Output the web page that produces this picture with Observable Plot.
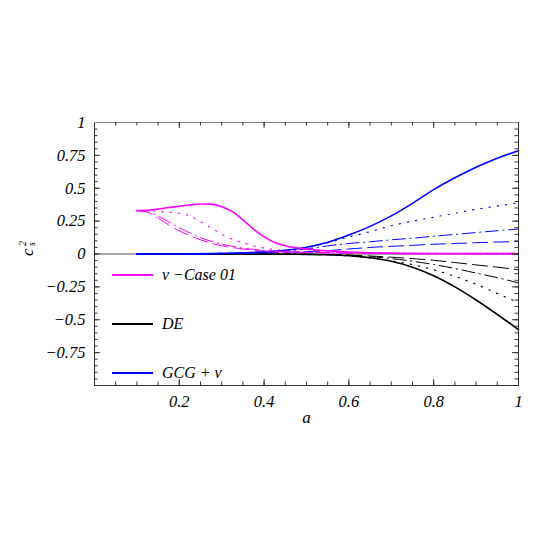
<!DOCTYPE html>
<html><head><meta charset="utf-8">
<script src="https://cdn.jsdelivr.net/npm/d3@7"></script>
<script src="https://cdn.jsdelivr.net/npm/@observablehq/plot@0.6"></script>
<style>
body{margin:0;background:#fff;}
#wrap{position:relative;width:545px;height:545px;overflow:hidden;}
.lg{position:absolute;left:112px;height:20px;display:flex;align-items:center;font-family:'Liberation Serif';font-style:italic;font-size:16px;color:#000;white-space:nowrap;}
.lg span.ln{display:inline-block;width:41px;height:1.5px;margin-right:9px;}
</style></head><body><div id="wrap"></div>
<script>
// ---- data ----
const aNu = [0.1,0.125,0.15,0.175,0.2,0.225,0.25,0.275,0.3,0.325,0.35,0.375,0.4,0.425,0.45,0.475,0.5,0.55,0.6,0.65,0.7,0.8,0.9,1.0];
const nuSolid   = [0.33,0.333,0.342,0.353,0.363,0.373,0.38,0.379,0.36,0.322,0.26,0.19,0.13,0.088,0.062,0.047,0.037,0.024,0.015,0.009,0.005,0.002,0.001,0];
const nuDotted  = [0.33,0.33,0.325,0.318,0.31,0.29,0.245,0.2,0.15,0.112,0.085,0.062,0.045,0.034,0.026,0.02,0.016,0.012,0.009,0.007,0.006,0.005,0.005,0.005];
const nuDotDash = [0.33,0.322,0.29,0.245,0.2,0.16,0.125,0.097,0.075,0.058,0.045,0.035,0.028,0.022,0.018,0.015,0.012,0.01,0.008,0.007,0.006,0.005,0.005,0.005];
const nuDashed  = [0.33,0.318,0.275,0.22,0.175,0.14,0.108,0.083,0.063,0.049,0.038,0.03,0.023,0.018,0.015,0.012,0.01,0.008,0.007,0.006,0.005,0.005,0.005,0.005];

const aGrid = [0.1,0.2,0.3,0.4,0.45,0.5,0.55,0.6,0.65,0.7,0.75,0.8,0.85,0.9,0.95,1.0];
const gcgSolid   = [0,0.001,0.005,0.016,0.028,0.052,0.09,0.145,0.21,0.29,0.385,0.49,0.58,0.66,0.728,0.785];
const gcgDotted  = [0,0.001,0.005,0.015,0.027,0.048,0.085,0.13,0.17,0.215,0.25,0.28,0.31,0.34,0.365,0.39];
const gcgDotDash = [0,0.001,0.004,0.012,0.022,0.038,0.062,0.08,0.093,0.108,0.12,0.135,0.149,0.163,0.177,0.19];
const gcgDashed  = [0,0.001,0.003,0.008,0.013,0.018,0.025,0.038,0.05,0.058,0.066,0.074,0.08,0.086,0.091,0.095];
const deSolid    = [0,0,0,-0.001,-0.002,-0.003,-0.006,-0.013,-0.028,-0.055,-0.1,-0.165,-0.25,-0.35,-0.46,-0.575];
const deDashed   = [0,0,0,0,-0.001,-0.002,-0.004,-0.008,-0.015,-0.024,-0.035,-0.048,-0.065,-0.083,-0.1,-0.12];
const deDotDash  = [0,0,0,0,-0.001,-0.002,-0.005,-0.01,-0.02,-0.035,-0.055,-0.08,-0.11,-0.145,-0.18,-0.22];
const deDotted   = [0,0,0,-0.001,-0.002,-0.003,-0.007,-0.015,-0.03,-0.052,-0.08,-0.12,-0.17,-0.23,-0.3,-0.37];

const xTicks = [0.2,0.4,0.6,0.8,1];
const xTickLabels = ["0.2","0.4","0.6","0.8","1"];
const yTicks = [1,0.75,0.5,0.25,0,-0.25,-0.5,-0.75];
const yTickLabels = ["1","0.75","0.5","0.25","0","\u22120.25","\u22120.5","\u22120.75"];
const xMajor = [0.2,0.4,0.6,0.8];
const xMinor = d3.range(1,20).map(i=>i*0.05);
const yMajor = [-0.75,-0.5,-0.25,0,0.25,0.5,0.75];
const yMinor = d3.range(-19,20).map(i=>i*0.05);
const legendLabels = ["\u03bd \u2212Case 01","DE","GCG + \u03bd"];
const legendColors = ["#ff00ff","#000000","#0000ff"];
const axisXLabel = "a";

// ---- chart ----
const FONT = "Liberation Serif";
const mk = (xs, ys) => xs.map((a,i)=>({a, v: ys[i]}));
const W=545,H=545,mL=94,mR=27,mT=122,mB=160;
const fw=W-mL-mR, fh=H-mT-mB;
const DOT="1.3,7", DD="13,4.5,1.3,4.5", DASH="15,6";
const line = (xs, ys, stroke, w, dash) => Plot.line(mk(xs,ys), {x:"a", y:"v", stroke, strokeWidth:w, strokeDasharray:dash, curve:"monotone-x"});
const tc = "#333";
const T = {fontFamily:FONT, fontStyle:"italic"};

const chart = Plot.plot({
  width:W, height:H, marginLeft:mL, marginRight:mR, marginTop:mT, marginBottom:mB,
  x:{domain:[0,1]}, y:{domain:[-1,1]},
  style:{fontFamily:FONT, fontStyle:"italic", fontSize:"16px", background:"#fff", color:"#000"},
  marks:[
    Plot.ruleY([0], {stroke:"#8a8a8a", strokeWidth:1.4}),
    line(aGrid, deDashed, "#000", 1, DASH),
    line(aGrid, deDotDash, "#000", 1, DD),
    line(aGrid, deDotted, "#000", 1.2, DOT),
    line(aGrid, deSolid, "#000", 1.6),
    line(aGrid, gcgDashed, "#0000ff", 1, DASH),
    line(aGrid, gcgDotDash, "#0000ff", 1, DD),
    line(aGrid, gcgDotted, "#0000ff", 1.2, DOT),
    line(aGrid, gcgSolid, "#0000ff", 1.6),
    line(aNu, nuDashed, "#ff00ff", 1, DASH),
    line(aNu, nuDotDash, "#ff00ff", 1, DD),
    line(aNu, nuDotted, "#ff00ff", 1.2, DOT),
    line(aNu, nuSolid, "#ff00ff", 1.6),
    Plot.frame({stroke:tc, strokeWidth:1}),
    Plot.ruleY([1], {stroke:"#888", strokeWidth:1.2}),
    Plot.tickX(xMajor, {x:d=>d, insetTop:fh-6, stroke:tc}),
    Plot.tickX(xMinor, {x:d=>d, insetTop:fh-3.5, stroke:tc}),
    Plot.tickX(xMajor, {x:d=>d, insetBottom:fh-6, stroke:tc}),
    Plot.tickX(xMinor, {x:d=>d, insetBottom:fh-3.5, stroke:tc}),
    Plot.tickY(yMajor, {y:d=>d, insetRight:fw-6, stroke:tc}),
    Plot.tickY(yMinor, {y:d=>d, insetRight:fw-3.5, stroke:tc}),
    Plot.tickY(yMajor, {y:d=>d, insetLeft:fw-6, stroke:tc}),
    Plot.tickY(yMinor, {y:d=>d, insetLeft:fw-3.5, stroke:tc}),
    Plot.axisX(xTicks, {tickSize:0, tickPadding:10, tickFormat:d=>xTickLabels[xTicks.indexOf(d)], label:null, fontSize:16.5, ...T}),
    Plot.axisY(yTicks, {tickSize:0, tickPadding:9, tickFormat:d=>yTickLabels[yTicks.indexOf(d)], label:null, fontSize:16.5, ...T}),
    Plot.text([axisXLabel], {text:d=>d, frameAnchor:"bottom", dy:37, fontSize:17, ...T}),
    Plot.text(["c"], {text:d=>d, frameAnchor:"left", dx:-67, dy:2, rotate:-90, fontSize:17, ...T}),
    Plot.text(["2"], {text:d=>d, frameAnchor:"left", dx:-72, dy:-8, rotate:-90, fontSize:10, ...T}),
    Plot.text(["s"], {text:d=>d, frameAnchor:"left", dx:-63, dy:-8, rotate:-90, fontSize:10, ...T})
  ]
});
const wrap = document.getElementById("wrap");
wrap.appendChild(chart);
const legendY = [275, 324, 373];
legendLabels.forEach((t,i)=>{
  const d = document.createElement("div");
  d.className = "lg";
  d.style.top = (legendY[i]-10)+"px";
  const s = document.createElement("span");
  s.className = "ln"; s.style.background = legendColors[i];
  d.appendChild(s);
  d.appendChild(document.createTextNode(t));
  wrap.appendChild(d);
});
</script></body></html>
